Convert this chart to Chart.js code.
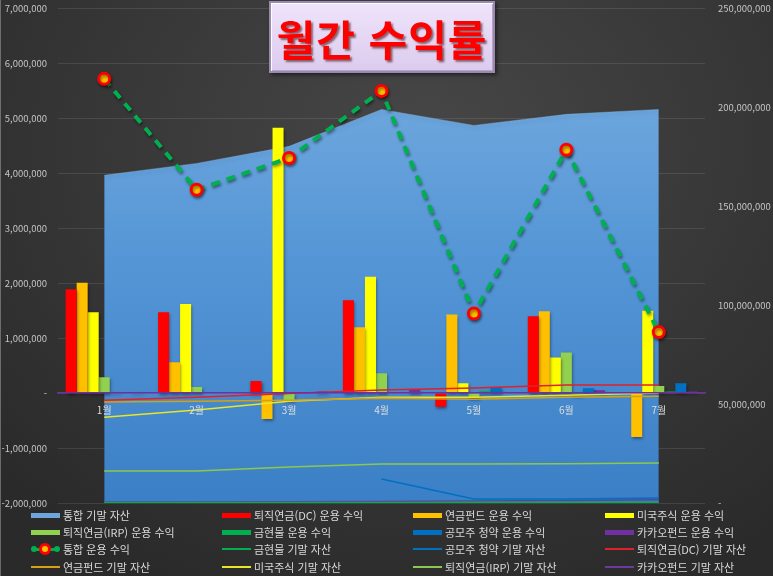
<!DOCTYPE html>
<html lang="ko">
<head>
<meta charset="UTF-8">
<title>월간 수익률</title>
<script src="https://cdn.jsdelivr.net/npm/chart.js@4.4.1/dist/chart.umd.min.js"></script>
<style>
* { box-sizing: border-box; margin: 0; padding: 0; }
body { width: 773px; height: 576px; overflow: hidden; font-family: 'Noto Sans CJK KR', 'Noto Sans', sans-serif; }
.board {
  position: relative; width: 773px; height: 576px;
  background: radial-gradient(ellipse 75% 85% at 55% 25%, #474747 0%, #3a3a3a 45%, #2a2a2a 100%);
  box-shadow: inset 1px 0 0 rgba(255,255,255,0.3);
}
#chart { position: absolute; left: 0; top: 0; }
.title {
  position: absolute; left: 269px; top: 1px; width: 226px; height: 72px;
  background: linear-gradient(#efe4fb, #dccbee);
  border: 2px solid #9a8ab0;
  box-shadow: inset 1px 1px 0 #fff, inset -1px -1px 0 #b5a5ca, 2px 2px 4px rgba(0,0,0,0.5);
  display: flex; align-items: center; justify-content: center;
  color: #ff0000; font-weight: bold; font-size: 42px; letter-spacing: 1px;
  text-shadow: 2px 2px 2px rgba(60,0,0,0.55);
}
.legend-item {
  position: absolute; height: 14px; display: flex; align-items: center;
  font-size: 11px; color: #d9d9d9; white-space: nowrap;
}
.swatch { position: relative; width: 29px; height: 14px; margin-right: 3px; flex: none; }
.swatch span { position: absolute; display: block; }
</style>
</head>
<body>
<div class="board">
  <canvas id="chart" width="773" height="576"></canvas>
  <div class="title">월간 수익률</div>
  <div id="legend"></div>
</div>
<script>
// ---------- data ----------
const months = ['1월', '2월', '3월', '4월', '5월', '6월', '7월'];

// 운용 수익 (left axis, 원)
const dcProfit      = [1890000, 1470000, 220000, 1690000, -250000, 1400000, 0];
const pensionProfit = [2010000, 560000, -470000, 1200000, 1430000, 1490000, -800000];
const usProfit      = [1470000, 1620000, 4830000, 2120000, 180000, 650000, 1500000];
const irpProfit     = [290000, 110000, -130000, 360000, -90000, 740000, 130000];
const goldProfit    = [20000, 0, 0, 10000, 40000, -40000, 30000];
const ipoProfit     = [0, 0, 0, 10000, 110000, 90000, 180000];
const kakaoProfit   = [20000, 0, 30000, 70000, 0, 50000, 30000];
const totalProfit   = [5720000, 3700000, 4280000, 5500000, 1450000, 4430000, 1110000];

// 기말 자산 (right axis, 원)
const totalAsset    = [165700000, 171700000, 180300000, 199000000, 190900000, 196500000, 199000000];
const goldAsset     = [300000, 300000, 300000, 300000, 400000, 400000, 400000];
const ipoAsset      = [null, null, null, 12100000, 2000000, 2000000, 2500000];
const dcAsset       = [52000000, 53500000, 55300000, 57100000, 58100000, 59600000, 59600000];
const pensionAsset  = [51000000, 51500000, 52000000, 53000000, 52500000, 53500000, 54000000];
const usAsset       = [43400000, 47000000, 51500000, 53500000, 53500000, 54500000, 55600000];
const irpAsset      = [16200000, 16200000, 18200000, 19700000, 19700000, 19900000, 20200000];
const kakaoAsset    = [500000, 500000, 600000, 800000, 1000000, 1300000, 1600000];

// ---------- helpers ----------
Chart.defaults.font.family = "'Noto Sans CJK KR', 'Noto Sans', sans-serif";

const fmt = v => v === 0 ? '-' : Number(v).toLocaleString('en-US');

function areaFill(ctx) {
  const area = ctx.chart.chartArea;
  if (!area) return '#5b9bd5';
  const g = ctx.chart.ctx.createLinearGradient(0, area.top, 0, area.bottom);
  g.addColorStop(0, '#7cb0e2');
  g.addColorStop(0.5, '#5596d6');
  g.addColorStop(1, '#3b7fc6');
  return g;
}

const bar = (label, data, color) => ({
  type: 'bar', label, data, backgroundColor: color, yAxisID: 'y', order: 5,
  categoryPercentage: 0.835, barPercentage: 1, shadow: 3
});
const line = (label, data, color) => ({
  type: 'line', label, data, borderColor: color, backgroundColor: color,
  borderWidth: 1.5, pointRadius: 0, yAxisID: 'y1', order: 3, fill: false, tension: 0
});

// soft drop shadow like the spreadsheet
const shadowPlugin = {
  id: 'shadows',
  beforeDatasetDraw(chart, args) {
    const ds = chart.data.datasets[args.index];
    if (!ds.shadow) return;
    const ctx = chart.ctx;
    ctx.save();
    ctx.shadowColor = 'rgba(0,0,0,0.45)';
    ctx.shadowBlur = ds.shadow;
    ctx.shadowOffsetX = 1;
    ctx.shadowOffsetY = 2;
  },
  afterDatasetDraw(chart, args) {
    if (chart.data.datasets[args.index].shadow) chart.ctx.restore();
  }
};

// fixed plot box: x 58..705, y 7..503
const fitY = w => s => { s.width = w; s.paddingTop = 0; s.paddingBottom = 0; };

const datasets = [
  { type: 'line', label: '통합 기말 자산', data: totalAsset, yAxisID: 'y1', order: 10,
    fill: 'start', backgroundColor: areaFill, borderColor: 'rgba(140,190,235,0.35)',
    borderWidth: 1, pointRadius: 0, tension: 0, shadow: 4 },
  bar('퇴직연금(DC) 운용 수익', dcProfit, '#ff0000'),
  bar('연금펀드 운용 수익', pensionProfit, '#ffc000'),
  bar('미국주식 운용 수익', usProfit, '#ffff00'),
  bar('퇴직연금(IRP) 운용 수익', irpProfit, '#92d050'),
  bar('금현물 운용 수익', goldProfit, '#00b050'),
  bar('공모주 청약 운용 수익', ipoProfit, '#0070c0'),
  bar('카카오펀드 운용 수익', kakaoProfit, '#7030a0'),
  { type: 'line', label: '통합 운용 수익', data: totalProfit, yAxisID: 'y', order: 1,
    borderColor: '#00b050', backgroundColor: '#00b050', borderWidth: 4, borderDash: [9, 7],
    tension: 0, fill: false, pointRadius: 5.5, pointBorderWidth: 3,
    pointBackgroundColor: '#ffc000', pointBorderColor: '#ff0000', shadow: 3 },
  line('금현물 기말 자산', goldAsset, '#00b050'),
  line('공모주 청약 기말 자산', ipoAsset, '#0070c0'),
  line('퇴직연금(DC) 기말 자산', dcAsset, '#e0202a'),
  line('연금펀드 기말 자산', pensionAsset, '#d4a017'),
  line('미국주식 기말 자산', usAsset, '#e6e62a'),
  line('퇴직연금(IRP) 기말 자산', irpAsset, '#8cc850'),
  line('카카오펀드 기말 자산', kakaoAsset, '#6a3aa0')
];

const chart = new Chart(document.getElementById('chart'), {
  type: 'bar',
  data: { labels: months, datasets },
  options: {
    responsive: false,
    animation: false,
    layout: { padding: { left: 0, right: 0, top: 7, bottom: 73 } },
    plugins: {
      legend: { display: false },
      tooltip: { enabled: false }
    },
    scales: {
      x: {
        position: { y: 0 },
        grid: { display: false, drawTicks: false },
        border: { display: true, color: '#7030a0', width: 1.5, z: 1 },
        ticks: { color: '#dedede', font: { size: 10 }, padding: 11, maxRotation: 0, z: 1 },
        afterFit: s => { s.height = 0; s.paddingLeft = 0; s.paddingRight = 0; }
      },
      y: {
        position: 'left',
        min: -2000000, max: 7000000,
        ticks: { stepSize: 1000000, color: '#c4c4c4', font: { size: 9.5 }, padding: 11, callback: fmt },
        grid: { color: 'rgba(255,255,255,0.1)', drawTicks: false },
        border: { display: false },
        afterFit: fitY(58)
      },
      y1: {
        position: 'right',
        min: 0, max: 250000000,
        ticks: { stepSize: 50000000, color: '#c4c4c4', font: { size: 9.5 }, padding: 13, callback: fmt },
        grid: { display: false, drawTicks: false },
        border: { display: false },
        afterFit: fitY(68)
      }
    }
  },
  plugins: [shadowPlugin]
});

// ---------- legend (4 columns, like the sheet) ----------
const colX = [31, 222, 413, 605];
const rowY = [515, 532, 549, 567];
const legend = document.getElementById('legend');
chart.data.datasets.forEach((ds, i) => {
  const item = document.createElement('div');
  item.className = 'legend-item';
  item.style.left = colX[i % 4] + 'px';
  item.style.top = (rowY[Math.floor(i / 4)] - 7) + 'px';
  const sw = document.createElement('div');
  sw.className = 'swatch';
  if (ds.borderDash) {
    sw.innerHTML =
      '<span style="left:1px;top:5.5px;width:27px;height:3px;background:#00b050"></span>' +
      '<span style="left:0;top:4px;width:6px;height:6px;border-radius:50%;background:#00b050"></span>' +
      '<span style="right:0;top:4px;width:6px;height:6px;border-radius:50%;background:#00b050"></span>' +
      '<span style="left:8px;top:1px;width:12px;height:12px;border-radius:50%;background:#ffc000;border:3px solid #ff0000"></span>';
  } else if (ds.type === 'bar' || ds.fill) {
    const c = ds.fill ? '#6ea6dc' : ds.backgroundColor;
    sw.innerHTML = '<span style="left:0;top:4.5px;width:29px;height:5px;background:' + c + '"></span>';
  } else {
    sw.innerHTML = '<span style="left:0;top:6px;width:29px;height:2px;background:' + ds.borderColor + '"></span>';
  }
  item.appendChild(sw);
  item.appendChild(document.createTextNode(ds.label));
  legend.appendChild(item);
});
</script>
</body>
</html>
